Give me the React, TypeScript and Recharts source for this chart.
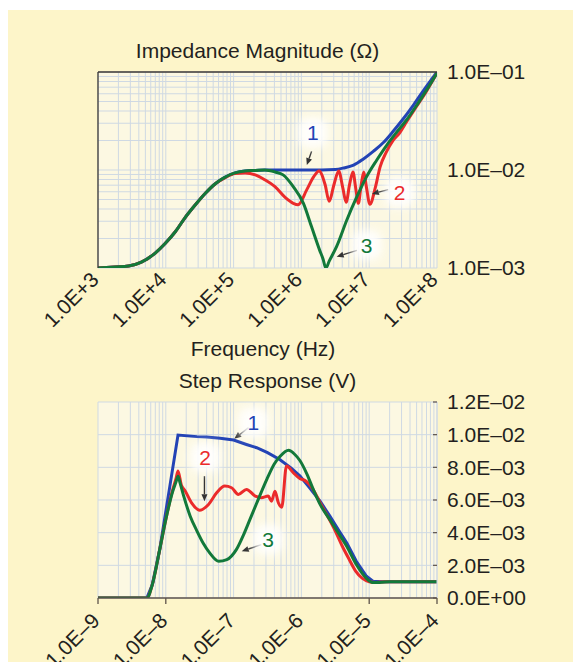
import React from "react";
import {
  LineChart,
  Line,
  XAxis,
  YAxis,
  CartesianGrid,
  ReferenceLine,
  ReferenceDot,
} from "recharts";

const FONT = '"Liberation Sans", Arial, Helvetica, sans-serif';
const INK = "#231f20";
const AXIS_DARK = "#3d3833";
const GRID = "#cfd9e3";
const BLUE = "#2343b5";
const RED = "#eb2b2b";
const GREEN = "#12793a";

// ---- Impedance magnitude: x = log10(f / Hz), y = log10(|Z| / ohm)
const impTicksX = [3, 4, 5, 6, 7, 8];
const impTicksY = [-3, -2, -1];

const blueImpF = [3.0, 3.25, 3.45, 3.64, 3.84, 3.99, 4.14, 4.28, 4.43, 4.58, 4.73, 4.87, 5.02, 5.17, 5.32, 5.46, 5.7, 6.0, 6.3, 6.5, 6.62, 6.77, 6.91, 7.06, 7.21, 7.36, 7.5, 7.65, 7.8, 8.0];
const blueImpZ = [-3.0, -2.99, -2.98, -2.94, -2.85, -2.75, -2.63, -2.49, -2.36, -2.24, -2.14, -2.075, -2.03, -2.01, -2.005, -2.0, -2.0, -2.0, -2.0, -1.995, -1.98, -1.95, -1.89, -1.81, -1.72, -1.6, -1.48, -1.34, -1.19, -1.0];

const redImpF = [3.0, 3.25, 3.45, 3.64, 3.84, 3.99, 4.14, 4.28, 4.43, 4.58, 4.73, 4.87, 5.02, 5.17, 5.32, 5.46, 5.61, 5.76, 5.88, 5.95, 6.08, 6.18, 6.26, 6.35, 6.41, 6.48, 6.55, 6.61, 6.66, 6.71, 6.76, 6.8, 6.84, 6.88, 6.92, 6.96, 7.01, 7.09, 7.16, 7.25, 7.35, 7.45, 7.55, 7.7, 7.85, 8.0];
const redImpZ = [-3.0, -2.99, -2.98, -2.94, -2.85, -2.75, -2.63, -2.49, -2.36, -2.24, -2.14, -2.08, -2.035, -2.03, -2.05, -2.1, -2.17, -2.28, -2.34, -2.355, -2.2, -2.07, -2.01, -2.15, -2.32, -2.15, -2.01, -2.18, -2.33, -2.15, -2.02, -2.18, -2.34, -2.16, -2.02, -2.18, -2.35, -2.18, -1.97, -1.82, -1.7, -1.62, -1.51, -1.35, -1.19, -1.01];

const greenImpF = [3.0, 3.25, 3.45, 3.64, 3.84, 3.99, 4.14, 4.28, 4.43, 4.58, 4.73, 4.87, 5.02, 5.17, 5.32, 5.46, 5.61, 5.73, 5.88, 6.03, 6.15, 6.27, 6.32, 6.36, 6.41, 6.52, 6.67, 6.82, 6.96, 7.11, 7.26, 7.41, 7.55, 7.7, 7.85, 8.0];
const greenImpZ = [-3.0, -2.99, -2.98, -2.94, -2.85, -2.75, -2.63, -2.49, -2.36, -2.24, -2.14, -2.075, -2.03, -2.01, -2.005, -2.0, -2.02, -2.05, -2.17, -2.34, -2.58, -2.82, -2.91, -3.0, -2.93, -2.78, -2.51, -2.27, -2.07, -1.9, -1.745, -1.61, -1.49, -1.34, -1.18, -1.01];

// ---- Step response: x = log10(t / s), y = volts x 1e-3
const stepTicksX = [-9, -8, -7, -6, -5, -4];
const stepTicksY = [0, 2, 4, 6, 8, 10, 12];
const stepTickMarks = [-9, -8, -5, -4];

const blueStepT = [-9.0, -8.28, -8.2, -8.09, -7.94, -7.82, -7.54, -7.4, -7.2, -7.0, -6.81, -6.66, -6.5, -6.32, -6.15, -6.02, -5.87, -5.72, -5.58, -5.45, -5.33, -5.19, -5.04, -4.94, -4.8, -4.0];
const blueStepV = [0, 0, 0.8, 2.96, 6.85, 9.98, 9.88, 9.85, 9.78, 9.67, 9.4, 9.2, 8.9, 8.48, 7.95, 7.46, 6.7, 5.9, 5.01, 4.15, 3.37, 2.25, 1.33, 1.02, 1.0, 1.0];

const redStepT = [-9.0, -8.28, -8.2, -8.09, -7.99, -7.9, -7.85, -7.82, -7.77, -7.72, -7.62, -7.5, -7.37, -7.25, -7.13, -7.03, -6.93, -6.81, -6.68, -6.59, -6.49, -6.44, -6.39, -6.34, -6.29, -6.22, -6.12, -6.02, -5.95, -5.87, -5.8, -5.72, -5.6, -5.5, -5.4, -5.3, -5.2, -5.1, -5.0, -4.9, -4.75, -4.0];
const redStepV = [0, 0, 0.8, 2.96, 5.0, 6.6, 7.3, 7.77, 6.9, 6.6, 5.83, 5.38, 5.73, 6.44, 6.85, 6.75, 6.34, 6.65, 6.24, 6.14, 6.24, 5.93, 6.54, 5.83, 5.56, 8.08, 7.67, 7.3, 7.2, 6.9, 6.45, 5.8, 4.9, 4.1, 3.2, 2.4, 1.65, 1.2, 1.0, 0.95, 1.0, 1.0];

const greenStepT = [-9.0, -8.28, -8.2, -8.09, -7.99, -7.9, -7.85, -7.82, -7.79, -7.74, -7.64, -7.54, -7.45, -7.35, -7.22, -7.1, -6.96, -6.85, -6.76, -6.66, -6.51, -6.4, -6.31, -6.19, -6.1, -6.02, -5.92, -5.82, -5.72, -5.58, -5.45, -5.33, -5.19, -5.04, -4.95, -4.85, -4.7, -4.0];
const greenStepV = [0, 0, 0.8, 2.96, 5.0, 6.5, 7.1, 7.46, 7.05, 6.3, 5.01, 4.1, 3.37, 2.75, 2.25, 2.35, 2.96, 3.9, 4.8, 5.8, 7.26, 8.2, 8.69, 9.04, 8.8, 8.4, 7.6, 6.6, 5.7, 4.8, 3.95, 3.15, 2.05, 1.2, 0.95, 0.95, 1.0, 1.0];

// callouts, in data units of each chart
const impNotes = [
  { text: "1", color: BLUE, x: 6.17, y: -1.62, from: [6.15, -1.81], to: [6.08, -1.95] },
  { text: "2", color: RED, x: 7.45, y: -2.23, from: [7.28, -2.2], to: [7.04, -2.245] },
  { text: "3", color: GREEN, x: 6.96, y: -2.765, from: [6.82, -2.82], to: [6.52, -2.885] },
];
const stepNotes = [
  { text: "1", color: BLUE, x: -6.71, y: 10.74, from: [-6.78, 10.43], to: [-6.99, 9.75] },
  { text: "2", color: RED, x: -7.42, y: 8.61, from: [-7.43, 7.46], to: [-7.43, 5.93] },
  { text: "3", color: GREEN, x: -6.49, y: 3.58, from: [-6.59, 3.27], to: [-6.88, 2.86] },
];

const minorLog = (from: number, to: number) => {
  const out: number[] = [];
  for (let d = from; d < to; d++) for (let k = 1; k < 10; k++) out.push(d + Math.log10(k));
  out.push(to);
  return out;
};

const impGridX = minorLog(3, 8);
const impGridY = minorLog(-3, -1);
const stepGridX = minorLog(-9, -4);

const rows = (xs: number[], ys: number[]) => xs.map((x, i) => ({ x, y: ys[i] }));

// map grid values through the axis scale when it is handed over, else through the plot box
const gridX = (vals: number[], lo: number, hi: number) => (p: any) =>
  vals.map((v) =>
    p.xAxis && typeof p.xAxis.scale === "function"
      ? p.xAxis.scale(v)
      : p.offset.left + ((v - lo) / (hi - lo)) * p.offset.width
  );
const gridY = (vals: number[], lo: number, hi: number) => (p: any) =>
  vals.map((v) =>
    p.yAxis && typeof p.yAxis.scale === "function"
      ? p.yAxis.scale(v)
      : p.offset.top + ((hi - v) / (hi - lo)) * p.offset.height
  );

const sciLabel = (v: number) => {
  if (v === 0) return "0.0E+00";
  const val = v * 1e-3;
  const e = Math.floor(Math.log10(val) + 1e-9);
  const m = val / Math.pow(10, e);
  return `${m.toFixed(1)}E\u2013${String(-e).padStart(2, "0")}`;
};

const Arrow = (p: any) => {
  const { x1, y1, x2, y2 } = p;
  if (![x1, y1, x2, y2].every((n) => typeof n === "number")) return <g />;
  const a = Math.atan2(y2 - y1, x2 - x1);
  const L = 7;
  const W = 3;
  const bx = x2 - L * Math.cos(a);
  const by = y2 - L * Math.sin(a);
  const pts = `${x2},${y2} ${bx - W * Math.sin(a)},${by + W * Math.cos(a)} ${bx + W * Math.sin(a)},${by - W * Math.cos(a)}`;
  return (
    <g>
      <line x1={x1} y1={y1} x2={bx} y2={by} stroke="#333" strokeWidth={1.4} />
      <polygon points={pts} fill="#333" />
    </g>
  );
};

const Note = ({ cx, cy, text, color }: any) => (
  <g>
    <rect x={cx - 15} y={cy - 15} width={30} height={30} rx={10} fill="#fff" opacity={0.9} filter="url(#noteGlow)" />
    <text x={cx} y={cy} dy="0.36em" textAnchor="middle" fontSize={21} fontFamily={FONT} fill={color}>
      {text}
    </text>
  </g>
);

const ImpXTick = ({ x, y, payload }: any) => (
  <g transform={`translate(${x + 2},${y + 13})`}>
    <text textAnchor="end" transform="rotate(-45)" fontSize={21} fontFamily={FONT} fill={INK}>
      {`1.0E+${payload.value}`}
    </text>
  </g>
);

const StepXTick = ({ x, y, payload }: any) => (
  <g>
    {stepTickMarks.includes(payload.value) && (
      <line x1={x} x2={x} y1={y} y2={y + 6} stroke="#5e534b" strokeWidth={1.3} />
    )}
    <g transform={`translate(${x + 3},${y + 24})`}>
      <text textAnchor="end" transform="rotate(-45)" fontSize={21} fontFamily={FONT} fill={INK}>
        {`1.0E\u2013${-payload.value}`}
      </text>
    </g>
  </g>
);

const rightTick = { fontSize: 21, fill: INK, fontFamily: FONT };

function ImpedanceChart() {
  return (
    <LineChart width={565} height={350} margin={{ top: 61, right: 36, bottom: 12, left: 82 }}>
      <CartesianGrid
        xAxisId="f"
        yAxisId="z"
        stroke={GRID}
        fill="#fcf8e2"
        fillOpacity={1}
        verticalCoordinatesGenerator={gridX(impGridX, 3, 8)}
        horizontalCoordinatesGenerator={gridY(impGridY, -3, -1)}
      />
      <XAxis
        xAxisId="f"
        dataKey="x"
        type="number"
        domain={[3, 8]}
        ticks={impTicksX}
        interval={0}
        allowDataOverflow
        axisLine={false}
        tickLine={false}
        tickSize={0}
        tickMargin={0}
        height={80}
        tick={<ImpXTick />}
      />
      <XAxis
        xAxisId="ftop"
        orientation="top"
        dataKey="x"
        type="number"
        domain={[3, 8]}
        ticks={impTicksX}
        interval={0}
        allowDataOverflow
        height={1}
        tick={false}
        tickSize={-5}
        axisLine={{ stroke: AXIS_DARK, strokeWidth: 1.3 }}
        tickLine={{ stroke: AXIS_DARK, strokeWidth: 1.3 }}
      />
      <YAxis
        yAxisId="z"
        orientation="left"
        type="number"
        domain={[-3, -1]}
        ticks={impTicksY}
        interval={0}
        allowDataOverflow
        width={8}
        tick={false}
        tickSize={6}
        axisLine={{ stroke: AXIS_DARK, strokeWidth: 1.3 }}
        tickLine={{ stroke: AXIS_DARK, strokeWidth: 1.3 }}
      />
      <YAxis
        yAxisId="zr"
        orientation="right"
        type="number"
        domain={[-3, -1]}
        ticks={impTicksY}
        interval={0}
        allowDataOverflow
        width={100}
        axisLine={false}
        tickLine={false}
        tickMargin={4}
        tick={rightTick}
        tickFormatter={(v: number) => `1.0E\u20130${-v}`}
      />
      <Line data={rows(blueImpF, blueImpZ)} dataKey="y" xAxisId="f" yAxisId="z" type="monotone" stroke={BLUE} strokeWidth={3} dot={false} isAnimationActive={false} />
      <Line data={rows(redImpF, redImpZ)} dataKey="y" xAxisId="f" yAxisId="z" type="monotone" stroke={RED} strokeWidth={3} dot={false} isAnimationActive={false} />
      <Line data={rows(greenImpF, greenImpZ)} dataKey="y" xAxisId="f" yAxisId="z" type="monotone" stroke={GREEN} strokeWidth={3} dot={false} isAnimationActive={false} />
      {impNotes.map((n) => (
        <ReferenceLine
          key={`a${n.text}`}
          xAxisId="f"
          yAxisId="z"
          segment={[{ x: n.from[0], y: n.from[1] }, { x: n.to[0], y: n.to[1] }]}
          ifOverflow="visible"
          shape={Arrow}
        />
      ))}
      {impNotes.map((n) => (
        <ReferenceDot
          key={`n${n.text}`}
          xAxisId="f"
          yAxisId="z"
          x={n.x}
          y={n.y}
          r={1}
          ifOverflow="visible"
          shape={(p: any) => <Note cx={p.cx} cy={p.cy} text={n.text} color={n.color} />}
        />
      ))}
    </LineChart>
  );
}

function StepChart() {
  return (
    <LineChart width={565} height={312} margin={{ top: 52, right: 36, bottom: 4, left: 90 }}>
      <CartesianGrid
        xAxisId="t"
        yAxisId="v"
        stroke={GRID}
        fill="#fcf8e2"
        fillOpacity={1}
        verticalCoordinatesGenerator={gridX(stepGridX, -9, -4)}
        horizontalCoordinatesGenerator={gridY(stepTicksY, 0, 12)}
      />
      <XAxis
        xAxisId="t"
        dataKey="x"
        type="number"
        domain={[-9, -4]}
        ticks={stepTicksX}
        interval={0}
        allowDataOverflow
        axisLine={{ stroke: "#5e534b", strokeWidth: 1.3 }}
        tickLine={false}
        tickSize={0}
        tickMargin={0}
        height={60}
        tick={<StepXTick />}
      />
      <YAxis
        yAxisId="v"
        orientation="right"
        type="number"
        domain={[0, 12]}
        ticks={stepTicksY}
        interval={0}
        allowDataOverflow
        width={100}
        axisLine={{ stroke: GRID }}
        tickLine={{ stroke: "#5e534b", strokeWidth: 1.2 }}
        tickSize={-4}
        tickMargin={14}
        tick={rightTick}
        tickFormatter={sciLabel}
      />
      <Line data={rows(blueStepT, blueStepV)} dataKey="y" xAxisId="t" yAxisId="v" type="linear" stroke={BLUE} strokeWidth={3} dot={false} isAnimationActive={false} />
      <Line data={rows(redStepT, redStepV)} dataKey="y" xAxisId="t" yAxisId="v" type="monotone" stroke={RED} strokeWidth={3} dot={false} isAnimationActive={false} />
      <Line data={rows(greenStepT, greenStepV)} dataKey="y" xAxisId="t" yAxisId="v" type="monotone" stroke={GREEN} strokeWidth={3} dot={false} isAnimationActive={false} />
      {stepNotes.map((n) => (
        <ReferenceLine
          key={`a${n.text}`}
          xAxisId="t"
          yAxisId="v"
          segment={[{ x: n.from[0], y: n.from[1] }, { x: n.to[0], y: n.to[1] }]}
          ifOverflow="visible"
          shape={Arrow}
        />
      ))}
      {stepNotes.map((n) => (
        <ReferenceDot
          key={`n${n.text}`}
          xAxisId="t"
          yAxisId="v"
          x={n.x}
          y={n.y}
          r={1}
          ifOverflow="visible"
          shape={(p: any) => <Note cx={p.cx} cy={p.cy} text={n.text} color={n.color} />}
        />
      ))}
    </LineChart>
  );
}

export default function App() {
  return (
    <div
      style={{
        position: "absolute",
        left: 8,
        top: 10,
        width: 565,
        height: 652,
        background: "#fdf5c9",
        overflow: "hidden",
        fontFamily: FONT,
      }}
    >
      <div style={{ position: "absolute", left: 0, top: 0 }}>
        <ImpedanceChart />
      </div>
      <div style={{ position: "absolute", left: 0, top: 340 }}>
        <StepChart />
      </div>
      <svg width={565} height={652} style={{ position: "absolute", left: 0, top: 0, pointerEvents: "none" }}>
        <defs>
          <filter id="noteGlow" x="-50%" y="-50%" width="200%" height="200%">
            <feGaussianBlur stdDeviation="4" />
          </filter>
        </defs>
        <g fontFamily={FONT} fontSize={21} fill={INK} textAnchor="middle">
          <text x={249.5} y={47.7}>Impedance Magnitude (Ω)</text>
          <text x={255} y={346}>Frequency (Hz)</text>
          <text x={259.5} y={378.3}>Step Response (V)</text>
        </g>
      </svg>
    </div>
  );
}
